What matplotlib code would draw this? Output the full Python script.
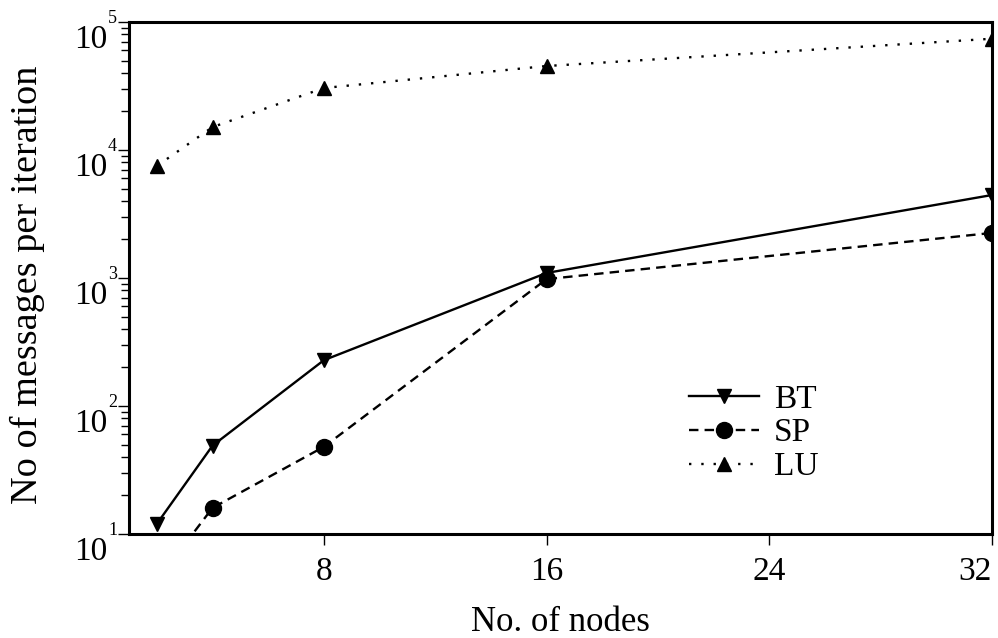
import matplotlib
matplotlib.use("Agg")
import matplotlib.pyplot as plt
from matplotlib.ticker import LogLocator, NullFormatter

nodes = [2, 4, 8, 16, 32]
bt = [12, 49, 228, 1095, 4450]
sp = [4.3, 16, 48, 980, 2250]
lu = [7500, 15100, 30500, 45300, 74000]
series_names = ["BT", "SP", "LU"]
x_ticks = [8, 16, 24, 32]
y_exps = [1, 2, 3, 4, 5]

plt.rcParams['font.family'] = ['Liberation Serif', 'DejaVu Serif']

fig = plt.figure(figsize=(9.98, 6.38), dpi=100)
ax = fig.add_axes([129/998, 104/638, 863/998, 512/638])

lw = 1.7
ax.plot(nodes, bt, color='black', lw=lw, linestyle='-', marker='v', ms=10.5, label=series_names[0])
ax.plot(nodes, sp, color='black', lw=lw, linestyle=(0, (4, 2.6)), marker='o', ms=11.5, label=series_names[1])
ax.plot(nodes, lu, color='black', lw=lw, linestyle=(0, (1, 4.2)), marker='^', ms=10.5, label=series_names[2])

ax.set_yscale('log')
ax.set_xlim(1, 32)
ax.set_ylim(10, 1e5)

for s in ax.spines.values():
    s.set_linewidth(2.2)

ax.set_xticks(x_ticks)
labels = ax.set_xticklabels([str(t) for t in x_ticks], fontsize=24)
labels[-1].set_horizontalalignment('right')
ax.tick_params(axis='x', direction='out', length=8, width=1, pad=8)

ax.yaxis.set_major_locator(LogLocator(base=10, numticks=10))
ax.yaxis.set_minor_locator(LogLocator(base=10, subs=range(2, 10), numticks=20))
ax.yaxis.set_minor_formatter(NullFormatter())
ax.set_yticklabels([])
ax.tick_params(axis='y', which='major', direction='out', length=8, width=1)
ax.tick_params(axis='y', which='minor', direction='out', length=6, width=1)

for e in y_exps:
    ax.annotate("10", xy=(0, 10 ** e), xycoords=('axes fraction', 'data'),
                xytext=(-22, -18), textcoords='offset pixels',
                ha='right', va='center', fontsize=24, annotation_clip=False)
    ax.annotate(str(e), xy=(0, 10 ** e), xycoords=('axes fraction', 'data'),
                xytext=(-21, -1), textcoords='offset pixels',
                ha='left', va='baseline', fontsize=13, annotation_clip=False)

ax.set_xlabel("No. of nodes", fontsize=25, labelpad=14)
fig.text(27/998, 1 - 285/638, "No of messages per iteration", rotation=90,
         ha='center', va='center', fontsize=27.5)

leg = ax.legend(loc='center left', bbox_to_anchor=(0.649, 0.197), frameon=False,
                fontsize=24, borderpad=0, borderaxespad=0, handlelength=2.1,
                handletextpad=0.45, labelspacing=0.1)

fig.savefig("out.png", dpi=100)
